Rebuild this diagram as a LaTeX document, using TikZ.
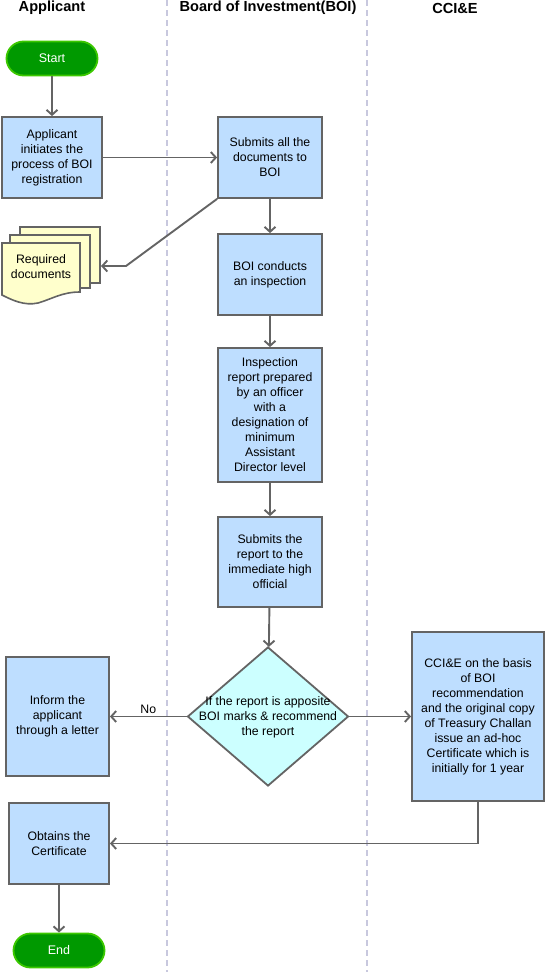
\documentclass[tikz,border=0pt]{standalone}
\usepackage{fontspec}
\setmainfont{Liberation Sans}
\usetikzlibrary{arrows.meta,positioning,shapes.geometric}
\definecolor{boxblue}{RGB}{190,222,255}
\definecolor{edgegray}{RGB}{100,100,100}
\definecolor{termgreen}{RGB}{0,153,0}
\definecolor{termedge}{RGB}{60,200,0}
\definecolor{docyellow}{RGB}{255,255,204}
\definecolor{decicyan}{RGB}{204,255,255}
\definecolor{lanegray}{RGB}{200,200,222}
\tikzset{
  proc/.style={draw=edgegray,line width=1.8pt,fill=boxblue,minimum width=101pt,inner sep=0pt,align=center,font=\fontsize{12.3}{15}\selectfont},
  term/.style={draw=termedge,line width=1.8pt,fill=termgreen,rounded corners=17pt,minimum width=91pt,minimum height=34pt,text=white,font=\fontsize{12.5}{14}\selectfont},
  decision/.style={diamond,draw=edgegray,line width=1.8pt,fill=decicyan,minimum width=161pt,minimum height=139pt,inner sep=0pt},
  page/.style={draw=edgegray,line width=1.6pt,fill=docyellow},
  lane/.style={draw=lanegray,line width=1.3pt,dash pattern=on 6pt off 4pt},
  head/.style={font=\bfseries\fontsize{14.6}{17}\selectfont},
  txt/.style={align=center,font=\fontsize{12.3}{15}\selectfont},
  arr/.style={-{Straight Barb[length=5pt,width=11pt]},draw=edgegray,line width=1.9pt}
}

\begin{document}
\begin{tikzpicture}[x=1pt,y=-1pt]
  \useasboundingbox (0,0) rectangle (545,972);

  % swimlanes
  \draw[lane] (167,0) -- (167,972);
  \draw[lane] (367,0) -- (367,972);
  \node[head] (hApp) at (52,8) {Applicant};
  \node[head] (hBoi) at (268,8) {Board of Investment(BOI)};
  \node[head] (hCci) at (455,8) {CCI\&E};

  % applicant lane
  \node[term] (start) at (52,58.5) {Start};
  \node[proc,minimum width=100pt,minimum height=81pt] (initiate) at (52,157.5) {Applicant\\initiates the\\process of BOI\\registration};
  \node[proc,minimum width=103pt,minimum height=119pt] (inform) at (57.5,716.5) {Inform the\\applicant\\through a letter};
  \node[proc,minimum width=100pt,minimum height=81pt] (obtain) at (59,843.5) {Obtains the\\Certificate};
  \node[term] (end) at (59,950.5) {End};

  % required documents (stacked pages)
  \draw[page] (20,227) rectangle (100,283);
  \draw[page] (10,235) rectangle (90,288);
  \draw[page] (2,243) -- (80,243) -- (80,292)
    .. controls (62,292) and (52,299) .. (38,303)
    .. controls (24,306) and (12,300) .. (2,295) -- cycle;
  \node[txt] (docs) at (41,267) {Required\\documents};
  \coordinate (docsedge) at (101,266);
  \coordinate (bend) at (126,266);

  % BOI lane
  \node[proc,minimum width=104pt,minimum height=81pt] (submit) at (270,157.5) {Submits all the\\documents to\\BOI};
  \node[proc,minimum width=104pt,minimum height=81pt] (inspect) at (270,274.5) {BOI conducts\\an inspection};
  \node[proc,minimum width=104pt,minimum height=134pt] (report) at (270,415) {Inspection\\report prepared\\by an officer\\with a\\designation of\\minimum\\Assistant\\Director level};
  \node[proc,minimum width=104pt,minimum height=90pt] (subrep) at (270,562) {Submits the\\report to the\\immediate high\\official};
  \node[decision] (dec) at (268,716.5) {};
  \node[txt] (dectext) at (268,717) {If the report is apposite\\BOI marks \& recommend\\the report};

  % CCI&E lane
  \node[proc,minimum width=132pt,minimum height=169pt] (cci) at (478,716.5) {CCI\&E on the basis\\of BOI\\recommendation\\and the original copy\\of Treasury Challan\\issue an ad-hoc\\Certificate which is\\initially for 1 year};

  % connectors
  \draw[arr] (start) -- (initiate);
  \draw[arr] (initiate) -- (submit);
  \draw[arr] (submit.south west) -- (bend) -- (docsedge);
  \draw[arr] (submit) -- (inspect);
  \draw[arr] (inspect) -- (report);
  \draw[arr] (report) -- (subrep);
  \draw[arr] (subrep) -- (dec);
  \draw[arr] (dec) -- node[above=-1pt,txt]{No} (inform);
  \draw[arr] (dec) -- (cci);
  \draw[arr] (cci.south) |- (obtain.east);
  \draw[arr] (obtain) -- (end);
\end{tikzpicture}
\end{document}
